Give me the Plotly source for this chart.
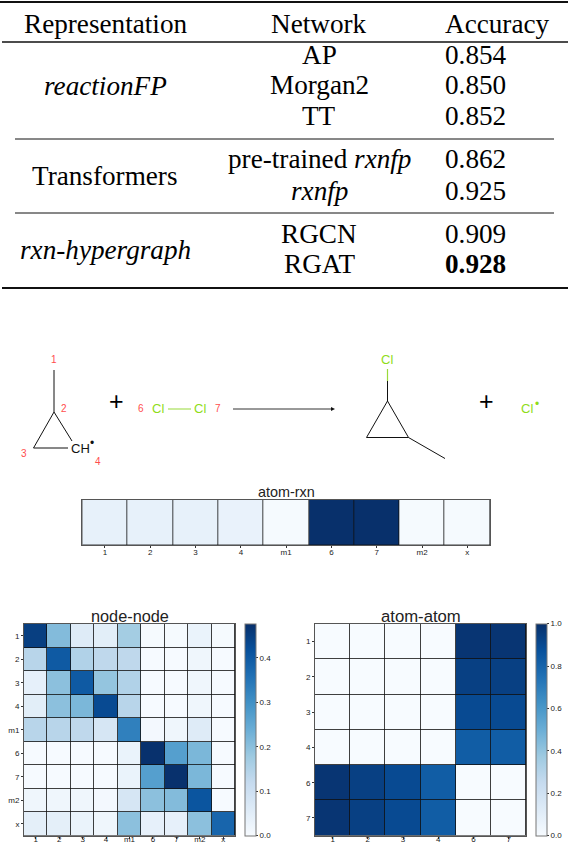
import plotly.graph_objects as go

W, H = 568, 844

# ---------- data ----------
table_headers = ["Representation", "Network", "Accuracy"]
representations = ["<i>reactionFP</i>", "Transformers", "<i>rxn-hypergraph</i>"]
networks = ["AP", "Morgan2", "TT", "pre-trained <i>rxnfp</i>", "<i>rxnfp</i>", "RGCN", "RGAT"]
accuracies = ["0.854", "0.850", "0.852", "0.862", "0.925", "0.909", "<b>0.928</b>"]

rxn_labels = ["1", "2", "3", "4", "m1", "6", "7", "m2", "x"]
rxn_values = [[0.08, 0.08, 0.08, 0.07, 0.01, 1.0, 1.0, 0.01, 0.01]]

node_labels = ["1", "2", "3", "4", "m1", "6", "7", "m2", "x"]
node_values = [
    [0.450, 0.210, 0.060, 0.050, 0.170, 0.005, 0.005, 0.030, 0.005],
    [0.140, 0.400, 0.150, 0.130, 0.130, 0.003, 0.003, 0.020, 0.003],
    [0.040, 0.200, 0.400, 0.190, 0.150, 0.003, 0.003, 0.020, 0.003],
    [0.050, 0.200, 0.220, 0.430, 0.140, 0.003, 0.003, 0.020, 0.003],
    [0.140, 0.140, 0.130, 0.080, 0.330, 0.010, 0.020, 0.060, 0.003],
    [0.003, 0.003, 0.003, 0.003, 0.030, 0.475, 0.270, 0.220, 0.003],
    [0.003, 0.003, 0.003, 0.003, 0.030, 0.270, 0.475, 0.220, 0.003],
    [0.020, 0.020, 0.020, 0.010, 0.080, 0.200, 0.210, 0.410, 0.003],
    [0.045, 0.045, 0.030, 0.020, 0.200, 0.040, 0.040, 0.200, 0.380],
]

atom_x_labels = ["1", "2", "3", "4", "6", "7"]
atom_y_labels = ["1", "2", "3", "4", "6", "7"]
atom_values = [
    [0.0, 0.0, 0.0, 0.0, 0.98, 0.98],
    [0.0, 0.0, 0.0, 0.0, 0.94, 0.94],
    [0.0, 0.0, 0.0, 0.0, 0.90, 0.90],
    [0.0, 0.0, 0.0, 0.0, 0.83, 0.83],
    [0.98, 0.94, 0.90, 0.83, 0.0, 0.0],
    [0.98, 0.94, 0.90, 0.83, 0.0, 0.0],
]

blues = ["#f7fbff", "#deebf7", "#c6dbef", "#9ecae1", "#6baed6",
         "#4292c6", "#2171b5", "#08519c", "#08306b"]
colorscale = [[i / 8, c] for i, c in enumerate(blues)]

# ---------- helpers ----------
def px(x):
    return x / W

def py(y):
    return 1 - y / H

fig = go.Figure()
shapes = []
notes = []

def line(x0, y0, x1, y1, color="#111111", width=1.0):
    shapes.append(dict(type="line", xref="paper", yref="paper",
                       x0=px(x0), y0=py(y0), x1=px(x1), y1=py(y1),
                       line=dict(color=color, width=width)))

def text(x, y, s, size, color="#000000", family="Liberation Sans", anchor="center"):
    notes.append(dict(xref="paper", yref="paper", x=px(x), y=py(y), text=s,
                      showarrow=False, xanchor=anchor, yanchor="middle",
                      font=dict(family=family, size=size, color=color)))

def heat(z, xl, yl, box, zmax, name, title, title_size, cbar=None, standoff=-6):
    x0, x1, y0, y1 = box
    n = len(fig.data) + 1
    sfx = "" if n == 1 else str(n)
    colorbar = None
    if cbar:
        colorbar = dict(x=px(cbar[0]), xanchor="left", xpad=0, ypad=0,
                        thickness=cbar[1] - cbar[0], thicknessmode="pixels",
                        y=py(y1), yanchor="bottom", len=y1 - y0, lenmode="pixels",
                        tickmode="array", tickvals=cbar[2],
                        ticktext=[f"{v:.1f}" for v in cbar[2]],
                        ticks="outside", ticklen=2, tickwidth=0.7, tickcolor="#333333",
                        outlinewidth=1, outlinecolor="#777777",
                        tickfont=dict(family="Liberation Sans", size=8, color="#222222"))
    fig.add_trace(go.Heatmap(
        z=z, x=xl, y=yl, zmin=0, zmax=zmax, colorscale=colorscale, name=name,
        xgap=0.8, ygap=0.8, showscale=bool(cbar), colorbar=colorbar,
        xaxis=f"x{sfx}", yaxis=f"y{sfx}", hoverinfo="skip"))
    tick = dict(type="category", ticks="outside", ticklen=2, tickwidth=0.7,
                tickcolor="#333333", showline=True, mirror=True, linecolor="#555555",
                linewidth=1, showgrid=False, zeroline=False,
                tickfont=dict(family="Liberation Sans", size=8, color="#222222"))
    fig.layout[f"xaxis{sfx}"] = dict(domain=[px(x0), px(x1)], anchor=f"y{sfx}",
                                     ticklabelstandoff=standoff, **tick)
    yaxis = dict(domain=[py(y1), py(y0)], anchor=f"x{sfx}", autorange="reversed", **tick)
    if name == "atom-rxn":
        yaxis.update(showticklabels=False, ticks="")
    fig.layout[f"yaxis{sfx}"] = yaxis
    text((x0 + x1) / 2, y0 - 8, title, title_size, "#222222")

# ---------- heatmaps ----------
heat(rxn_values, rxn_labels, [" "], (82.3, 490, 499.5, 545), 1.0, "atom-rxn", "atom-rxn", 14.4,
     standoff=-3)
heat(node_values, node_labels, node_labels, (24, 235, 624, 835.6), 0.477, "node-node",
     "node-node", 16.3, (244.5, 255, [0, 0.1, 0.2, 0.3, 0.4]))
heat(atom_values, atom_x_labels, atom_y_labels, (315, 526.3, 624, 835.6), 1.0, "atom-atom",
     "atom-atom", 16.7, (535.8, 547, [0, 0.2, 0.4, 0.6, 0.8, 1.0]))

# ---------- table ----------
SERIF = "Liberation Serif"
TS = 27.2
for y, x0, x1, w in [(2, 0, 568, 2), (42, 2, 568, 1.6), (139, 15, 554, 1),
                     (213, 15, 554, 1), (288, 2, 568, 2)]:
    line(x0, y, x1, y, "#111111", w)

text(105, 23.5, table_headers[0], TS, family=SERIF)
text(319, 23.5, table_headers[1], TS, family=SERIF)
text(443, 23.5, table_headers[2], TS, family=SERIF, anchor="left")

for y, s in zip([86, 176, 250], representations):
    text(105, y, s, TS, family=SERIF)
row_y = [55, 85.5, 116, 159.5, 190.5, 234, 264.5]
for y, n, a in zip(row_y, networks, accuracies):
    text(319, y, n, TS, family=SERIF)
    text(443, y, a, TS, family=SERIF, anchor="left")

# ---------- reaction scheme ----------
RED, GREEN = "#ff4d4d", "#8fdc1a"
line(54, 370, 54, 412)
line(54, 412, 72, 441)
line(54, 412, 33.5, 448)
line(33.5, 448, 68, 448)
text(80, 448, "CH", 13, "#111111")
text(92, 442.5, "•", 12, "#111111")
for x, y, s in [(53.5, 359.5, "1"), (64, 409, "2"), (23.5, 453, "3"), (98, 461, "4"),
                (140.5, 409, "6"), (217.5, 409, "7")]:
    text(x, y, s, 10, RED)
text(116, 400.5, "+", 25, "#000000")
text(158, 409, "Cl", 13, GREEN)
line(168, 409, 191, 409, "#a9e05a", 1.2)
text(199.5, 409, "Cl", 13, GREEN)
line(233, 409, 333, 409, "#333333", 1)
shapes.append(dict(type="path", xref="paper", yref="paper",
                   path=f"M {px(331)} {py(407)} L {px(335)} {py(409)} L {px(331)} {py(411)} Z",
                   fillcolor="#111111", line=dict(width=0)))
text(387, 360, "Cl", 13, GREEN)
line(387.5, 369, 387.5, 381, "#9ad93a", 1.2)
line(387.5, 381, 387.5, 401)
line(387.5, 401, 366.5, 437.5)
line(387.5, 401, 408.5, 437.5)
line(366.5, 437.5, 408.5, 437.5)
line(408.5, 437.5, 445, 458.5)
text(486, 400.5, "+", 25, "#000000")
text(527, 409, "Cl", 13, GREEN)
text(536.5, 404, "•", 12, GREEN)

fig.update_layout(width=W, height=H, autosize=False,
                  margin=dict(l=0, r=0, t=0, b=0, autoexpand=False),
                  paper_bgcolor="white", plot_bgcolor="#111111",
                  showlegend=False, shapes=shapes, annotations=notes)

fig.write_html("out.html", config={"displayModeBar": False},
               post_script="document.body.style.margin='0';")
